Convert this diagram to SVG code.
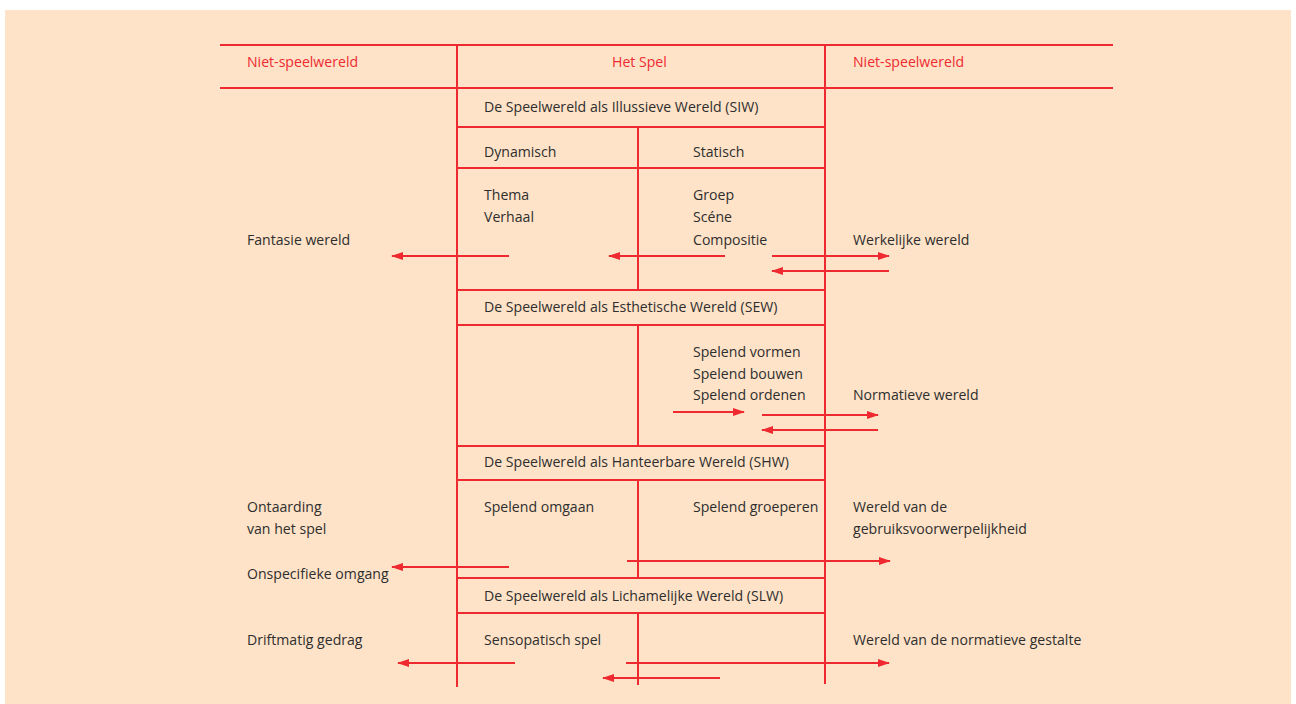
<svg xmlns="http://www.w3.org/2000/svg" width="1296" height="704" viewBox="0 0 1296 704">
<defs>
<style>
.ln{stroke:#EE2A30;stroke-width:2;fill:none}
.ar{stroke:#EE2A30;stroke-width:2;fill:none;marker-end:url(#ah)}
text{font-family:"Open Sans","Noto Sans","Liberation Sans",sans-serif;font-size:14.1px;fill:#2E2E2E}
.red{fill:#EE2A30}
</style>
<marker id="ah" viewBox="0 0 12 8" refX="11" refY="4" markerWidth="12" markerHeight="8" markerUnits="userSpaceOnUse" orient="auto">
<path d="M0,0 L12,4 L0,8 z" fill="#EE2A30"/>
</marker>
</defs>
<rect x="0" y="0" width="1296" height="704" fill="#FFFFFF"/>
<rect x="5" y="10" width="1286" height="694" fill="#FEE3C8"/>
<g id="grid">
<line class="ln" x1="220" y1="45" x2="1113" y2="45"/>
<line class="ln" x1="220" y1="88" x2="1113" y2="88"/>
<line class="ln" x1="457" y1="45" x2="457" y2="687"/>
<line class="ln" x1="825" y1="45" x2="825" y2="684"/>
<line class="ln" x1="457" y1="127" x2="825" y2="127"/>
<line class="ln" x1="457" y1="168" x2="825" y2="168"/>
<line class="ln" x1="638" y1="127" x2="638" y2="290"/>
<line class="ln" x1="457" y1="290" x2="825" y2="290"/>
<line class="ln" x1="457" y1="325" x2="825" y2="325"/>
<line class="ln" x1="638" y1="325" x2="638" y2="446"/>
<line class="ln" x1="457" y1="446" x2="825" y2="446"/>
<line class="ln" x1="457" y1="480" x2="825" y2="480"/>
<line class="ln" x1="638" y1="480" x2="638" y2="578"/>
<line class="ln" x1="457" y1="578" x2="825" y2="578"/>
<line class="ln" x1="457" y1="613" x2="825" y2="613"/>
<line class="ln" x1="638" y1="613" x2="638" y2="685"/>
</g>
<g id="header">
<text class="red" x="247" y="67">Niet-speelwereld</text>
<text class="red" x="612" y="67">Het Spel</text>
<text class="red" x="853" y="67">Niet-speelwereld</text>
</g>
<g id="siw">
<text x="484" y="112">De Speelwereld als Illussieve Wereld (SIW)</text>
<text x="484" y="157">Dynamisch</text>
<text x="693" y="157">Statisch</text>
<text x="484" y="200">Thema</text>
<text x="484" y="222">Verhaal</text>
<text x="693" y="200">Groep</text>
<text x="693" y="222">Scéne</text>
<text x="693" y="245">Compositie</text>
<text x="247" y="245">Fantasie wereld</text>
<text x="853" y="245">Werkelijke wereld</text>
</g>
<g id="sew">
<text x="484" y="312">De Speelwereld als Esthetische Wereld (SEW)</text>
<text x="693" y="357">Spelend vormen</text>
<text x="693" y="379">Spelend bouwen</text>
<text x="693" y="400">Spelend ordenen</text>
<text x="853" y="400">Normatieve wereld</text>
</g>
<g id="shw">
<text x="484" y="467">De Speelwereld als Hanteerbare Wereld (SHW)</text>
<text x="247" y="512">Ontaarding</text>
<text x="247" y="534">van het spel</text>
<text x="484" y="512">Spelend omgaan</text>
<text x="693" y="512">Spelend groeperen</text>
<text x="853" y="512">Wereld van de</text>
<text x="853" y="534">gebruiksvoorwerpelijkheid</text>
<text x="247" y="579">Onspecifieke omgang</text>
</g>
<g id="slw">
<text x="484" y="601">De Speelwereld als Lichamelijke Wereld (SLW)</text>
<text x="247" y="645">Driftmatig gedrag</text>
<text x="484" y="645">Sensopatisch spel</text>
<text x="853" y="645">Wereld van de normatieve gestalte</text>
</g>
<g id="connectors">
<line class="ar" x1="509" y1="256" x2="392" y2="256"/>
<line class="ar" x1="725" y1="256" x2="609" y2="256"/>
<line class="ar" x1="772" y1="256" x2="889" y2="256"/>
<line class="ar" x1="889" y1="271" x2="772" y2="271"/>
<line class="ar" x1="673" y1="412" x2="744" y2="412"/>
<line class="ar" x1="762" y1="415" x2="878" y2="415"/>
<line class="ar" x1="878" y1="430" x2="762" y2="430"/>
<line class="ar" x1="509" y1="567" x2="392" y2="567"/>
<line class="ar" x1="627" y1="561" x2="890" y2="561"/>
<line class="ar" x1="515" y1="663" x2="398" y2="663"/>
<line class="ar" x1="626" y1="663" x2="889" y2="663"/>
<line class="ar" x1="720" y1="678" x2="603" y2="678"/>
</g>
</svg>
